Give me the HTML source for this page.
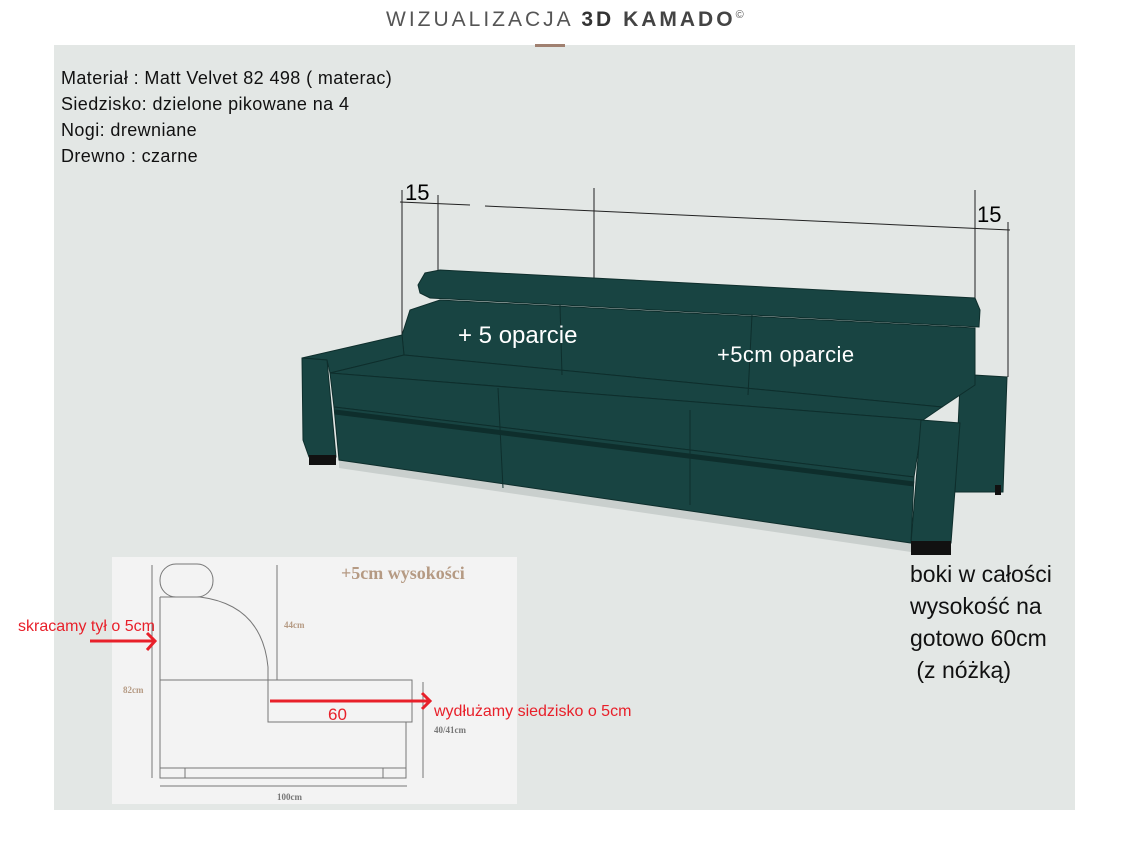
<!DOCTYPE html>
<html><head><meta charset="utf-8"><style>
body{margin:0;width:1128px;height:860px;background:#fff;position:relative;overflow:hidden;font-family:"Liberation Sans",sans-serif}
.a{position:absolute;white-space:nowrap}
</style></head><body>
<div class="a" style="left:54px;top:45px;width:1021px;height:765px;background:#e3e7e5"></div>
<div class="a" style="left:386px;top:8px;font-size:21px;letter-spacing:3px;color:#555">WIZUALIZACJA <b style="color:#333">3D</b> <span style="color:#444;font-weight:bold">KAMADO</span><sup style="font-size:11px">©</sup></div>
<div class="a" style="left:535px;top:44px;width:30px;height:3px;background:#a08070"></div>
<div class="a" style="left:61px;top:65px;font-size:18px;letter-spacing:0.4px;line-height:26px;color:#111">Materiał : Matt Velvet 82 498 ( materac)<br>Siedzisko: dzielone pikowane na 4<br>Nogi: drewniane<br>Drewno : czarne</div>
<svg class="a" style="left:0;top:0" width="1128" height="860">
<g stroke="#222" stroke-width="1" fill="none">
<line x1="400" y1="202" x2="470" y2="205"/><line x1="485" y1="206" x2="1010" y2="230"/>
<line x1="402" y1="190" x2="402" y2="335"/><line x1="438" y1="195" x2="438" y2="270"/>
<line x1="594" y1="188" x2="594" y2="278"/><line x1="975" y1="190" x2="975" y2="300"/>
<line x1="1008" y1="222" x2="1008" y2="377"/>
</g>
<polygon points="339,460 911,543 911,552 339,468" fill="#c9cfcd"/>
<g fill="#184442" stroke="#0e2e2c" stroke-width="1">
<polygon points="960,385 974,375 1007,377 1003,492 955,492"/>
<polygon points="402,335 410,310 440,300 975,328 975,385 942,407 404,355"/>
<polygon points="418,285 425,273 440,270 975,298 980,310 979,327 430,298 420,293"/>
<polygon points="302,358 402,335 404,355 330,373 327,360"/>
<polygon points="330,373 404,355 942,407 923,420"/>
<polygon points="330,373 923,420 914,477 334,407"/>
<polygon points="334,407 914,477 911,543 339,460"/>
<polygon points="302,358 327,360 336,457 309,457 303,440"/>
<polygon points="921,420 960,423 951,543 911,543"/>
</g>
<g stroke="#0e2e2c" stroke-width="1">
<line x1="498" y1="388" x2="503" y2="488"/><line x1="690" y1="410" x2="690" y2="505"/>
<line x1="560" y1="305" x2="562" y2="375"/><line x1="752" y1="315" x2="748" y2="395"/>
<line x1="335" y1="412" x2="914" y2="484" stroke-width="5"/>
</g>
<rect x="309" y="455" width="27" height="10" fill="#111"/><rect x="911" y="541" width="40" height="14" fill="#111"/>
<rect x="995" y="485" width="6" height="10" fill="#111"/>
<text x="405" y="200" font-size="22" font-family="Liberation Sans">15</text>
<text x="977" y="222" font-size="22" font-family="Liberation Sans">15</text>
<text x="458" y="343" font-size="24" fill="#fff" font-family="Liberation Sans">+ 5 oparcie</text>
<text x="717" y="362" font-size="22" letter-spacing="0.4" fill="#fff" font-family="Liberation Sans">+5cm oparcie</text>
<rect x="112" y="557" width="405" height="247" fill="#f3f3f3"/>
<g stroke="#777" stroke-width="1" fill="none">
<rect x="160" y="564" width="53" height="33" rx="16"/>
<path d="M160 597 L200 597 Q262 605 268 667 L268 722 L412 722 L412 680 L160 680"/>
<path d="M160 597 L160 778 L406 778 L406 722 M160 768 L406 768 M185 768 L185 778 M383 768 L383 778"/>
<line x1="152" y1="565" x2="152" y2="778"/><line x1="277" y1="565" x2="277" y2="680"/>
<line x1="423" y1="682" x2="423" y2="778"/><line x1="160" y1="786" x2="407" y2="786"/>
</g>
<g font-family="Liberation Serif" font-size="9" font-weight="bold">
<text x="123" y="693" fill="#b59a83">82cm</text><text x="284" y="628" fill="#b59a83">44cm</text>
<text x="434" y="733" fill="#777">40/41cm</text><text x="277" y="800" fill="#777">100cm</text>
</g>
<text x="341" y="579" font-size="18" font-weight="bold" fill="#b59a83" font-family="Liberation Serif">+5cm wysokości</text>
<g stroke="#e8202a" stroke-width="3" fill="none">
<line x1="90" y1="641" x2="155" y2="641"/><polyline points="147,633 155,641 147,650"/>
<line x1="270" y1="701" x2="430" y2="701"/><polyline points="422,693 430,701 422,709"/>
</g>
<text x="18" y="631" font-size="16" fill="#e8202a" font-family="Liberation Sans">skracamy tył o 5cm</text>
<text x="328" y="720" font-size="17" fill="#e8202a" font-family="Liberation Sans">60</text>
<text x="434" y="716" font-size="16" fill="#e8202a" font-family="Liberation Sans">wydłużamy siedzisko o 5cm</text>
</svg>
<div class="a" style="left:910px;top:558px;font-size:23px;line-height:32px;color:#111">boki w całości<br>wysokość na<br>gotowo 60cm<br>&nbsp;(z nóżką)</div>
</body></html>
